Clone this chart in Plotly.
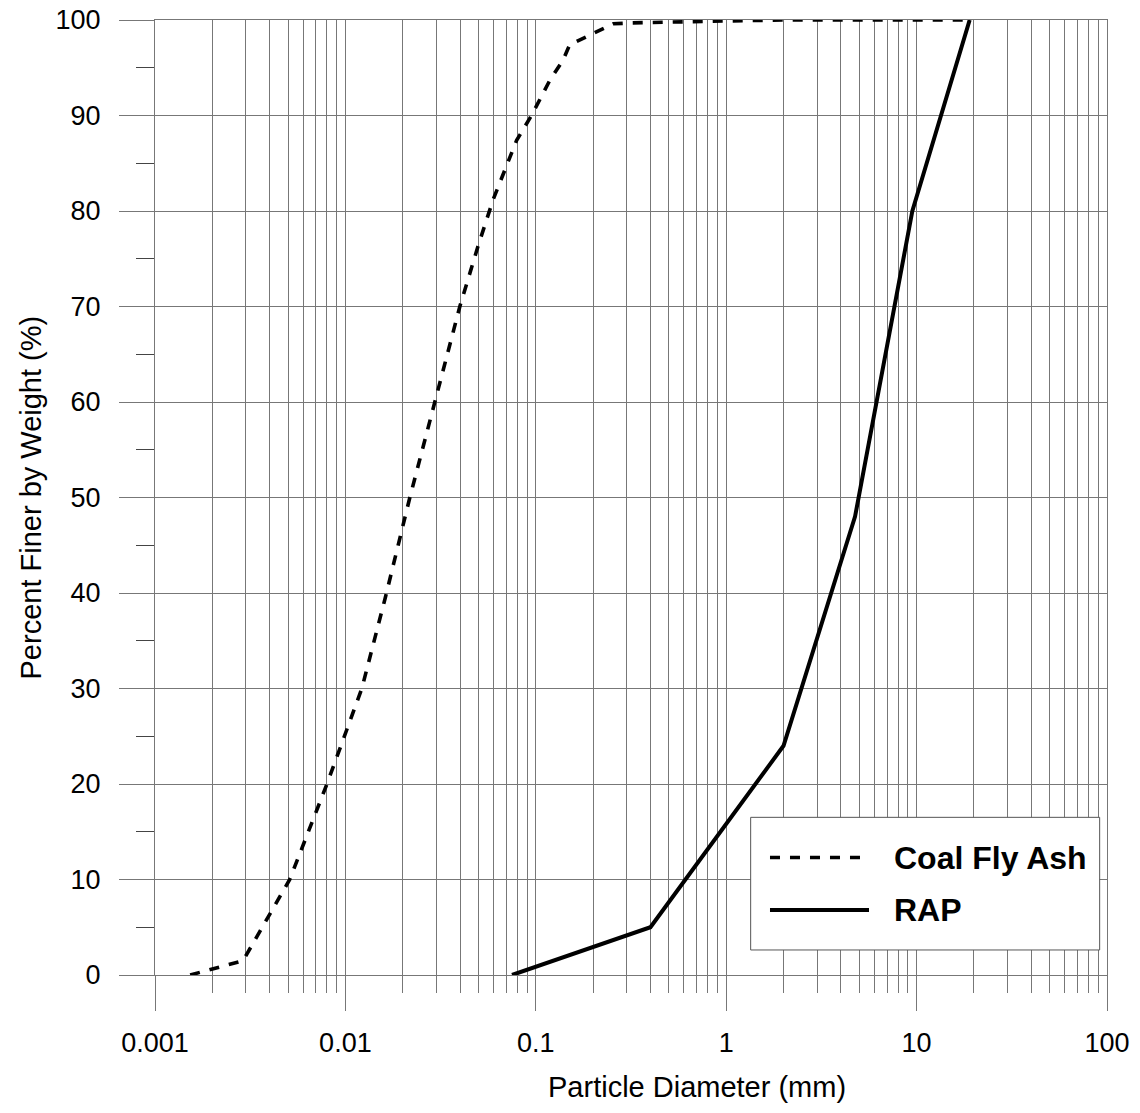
import plotly.graph_objects as go

# Grain-size distribution data (particle diameter in mm, percent finer by weight)
fly_ash_d = [0.00153, 0.0018, 0.0029, 0.0051, 0.0080, 0.0122, 0.0162, 0.0218,
             0.0295, 0.0399, 0.0497, 0.0597, 0.0793, 0.0949, 0.1186, 0.139,
             0.1506, 0.2, 0.255, 0.32, 0.5, 1.0, 2.0, 19.0]
fly_ash_pct = [0.0, 0.4, 1.5, 10.0, 20.0, 30.0, 39.5, 50.0,
               60.0, 70.0, 76.3, 81.2, 87.4, 90.0, 93.7, 95.8,
               97.4, 98.6, 99.6, 99.7, 99.8, 99.9, 100.0, 100.0]

rap_d = [0.075, 0.4, 2.0, 4.75, 9.5, 19.0]
rap_pct = [0.0, 5.0, 24.0, 48.0, 80.0, 100.0]

x_tick_vals = [0.001, 0.01, 0.1, 1, 10, 100]
x_tick_text = ["0.001", "0.01", "0.1", "1", "10", "100"]
x_minor_vals = [m * 10.0 ** e for e in range(-3, 2) for m in range(2, 10)]
y_tick_vals = list(range(0, 101, 10))
y_minor_vals = list(range(5, 100, 10))

series_names = ["Coal Fly Ash", "RAP"]

FONT = "Liberation Sans, Arial, sans-serif"
GRID = "#777777"
TICK = "#444444"

fig = go.Figure()
fig.add_trace(go.Scatter(
    x=fly_ash_d, y=fly_ash_pct, mode="lines", name=series_names[0],
    line=dict(color="black", width=3.6, dash="10px,10px"), showlegend=False))
fig.add_trace(go.Scatter(
    x=rap_d, y=rap_pct, mode="lines", name=series_names[1],
    line=dict(color="black", width=4), showlegend=False))

fig.update_xaxes(
    type="log", range=[-3, 2], automargin=False,
    tickmode="array", tickvals=x_tick_vals, ticktext=x_tick_text,
    ticks="outside", ticklen=35, tickcolor=GRID, tickwidth=1,
    ticklabelstandoff=9,
    showgrid=True, gridcolor=GRID, gridwidth=1,
    minor=dict(tickvals=x_minor_vals, ticks="outside", ticklen=17,
               tickcolor=GRID, tickwidth=1, showgrid=True,
               gridcolor=GRID, gridwidth=1),
    showline=True, mirror=True, linecolor=GRID, linewidth=1,
    zeroline=False,
    tickfont=dict(family=FONT, size=27, color="black"),
)
fig.update_yaxes(
    range=[0, 100], automargin=False,
    tickmode="array", tickvals=y_tick_vals,
    ticks="outside", ticklen=35, tickcolor=GRID, tickwidth=1,
    ticklabelstandoff=13,
    showgrid=True, gridcolor=GRID, gridwidth=1,
    minor=dict(tickvals=y_minor_vals, ticks="outside", ticklen=18,
               tickcolor=TICK, tickwidth=1, showgrid=False),
    showline=True, mirror=True, linecolor=GRID, linewidth=1,
    zeroline=False,
    tickfont=dict(family=FONT, size=27, color="black"),
)

# Legend drawn as a framed box with long line samples
box_x0, box_x1, box_y0, box_y1 = 0.6257, 0.9923, 0.0262, 0.1651
sample_x0, sample_x1 = 0.646, 0.750
label_x = 0.7739
row_y = [0.123, 0.068]
row_dash = ["10px,10px", "solid"]
row_width = [3.6, 4]

shapes = [dict(type="rect", xref="paper", yref="paper",
               x0=box_x0, x1=box_x1, y0=box_y0, y1=box_y1,
               fillcolor="white", line=dict(color="#555555", width=1),
               layer="above")]
annotations = []
for name, yy, dsh, wd in zip(series_names, row_y, row_dash, row_width):
    shapes.append(dict(type="line", xref="paper", yref="paper",
                       x0=sample_x0, x1=sample_x1, y0=yy, y1=yy,
                       line=dict(color="black", width=wd, dash=dsh),
                       layer="above"))
    annotations.append(dict(text=f"<b>{name}</b>", xref="paper", yref="paper",
                            x=label_x, y=yy, xanchor="left", yanchor="middle",
                            showarrow=False,
                            font=dict(family=FONT, size=32, color="black")))

# Axis titles
annotations.append(dict(text="Particle Diameter (mm)", xref="paper", yref="paper",
                        x=0.569, y=-0.1173, xanchor="center", yanchor="middle",
                        showarrow=False,
                        font=dict(family=FONT, size=29, color="black")))
annotations.append(dict(text="Percent Finer by Weight (%)", xref="paper", yref="paper",
                        x=-0.1313, y=0.5, xanchor="center", yanchor="middle",
                        textangle=-90, showarrow=False,
                        font=dict(family=FONT, size=29, color="black")))

fig.update_layout(
    width=1140, height=1113,
    margin=dict(l=155, r=33, t=20, b=138),
    paper_bgcolor="white", plot_bgcolor="white",
    shapes=shapes, annotations=annotations,
    showlegend=False,
)

fig.write_html("out.html")
